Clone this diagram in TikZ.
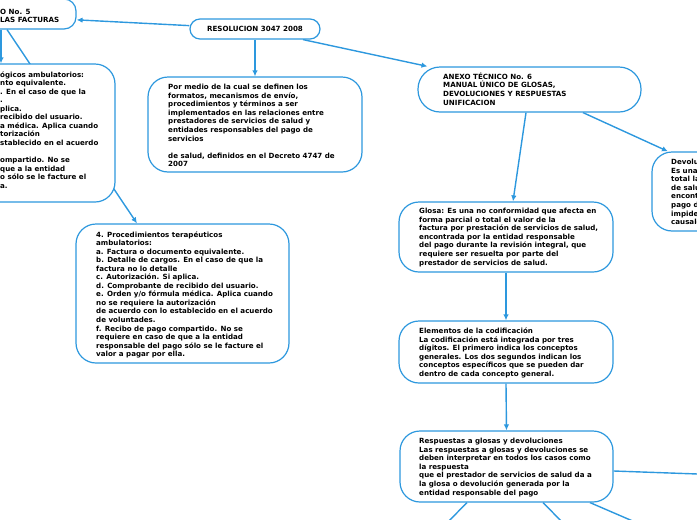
\documentclass[tikz,border=0pt]{standalone}
\usepackage{fontspec}
\setmainfont{DejaVu Sans}
\usetikzlibrary{arrows.meta,backgrounds}
\definecolor{mblue}{RGB}{45,152,222}
\newcommand{\tp}{\rule{0pt}{7pt}}
\tikzset{
  box/.style={draw=mblue, line width=1.2pt, fill=white, rectangle, rounded corners=#1, inner sep=0pt},
  box/.default=20pt,
  txt/.style={anchor=north west, align=left, inner sep=0pt, font=\bfseries\fontsize{7.1}{8.55}\selectfont, text=black},
  conn/.style={draw=mblue, line width=1.4pt, -{Latex[length=6pt,width=5.5pt]}},
  link/.style={draw=mblue, line width=1.4pt},
}
\begin{document}
\begin{tikzpicture}[x=1pt,y=-1pt]
\useasboundingbox (0,0) rectangle (697,520);
\clip (0,0) rectangle (697,520);
% boxes
\node[box=10pt, minimum width=130pt, minimum height=20pt] (R) at (255,29) {};
\node[box=12pt, minimum width=226pt, minimum height=30pt] (A5) at (-37,14) {};
\node[box=20pt, minimum width=265pt, minimum height=138pt] (L3) at (-17.5,133) {};
\node[box=20pt, minimum width=214pt, minimum height=95pt] (P) at (255,124.5) {};
\node[box=22pt, minimum width=223pt, minimum height=45pt] (A6) at (529.5,89.5) {};
\node[box=20pt, minimum width=148pt, minimum height=79pt] (Dv) at (726,191.5) {};
\node[box=20pt, minimum width=213pt, minimum height=139pt] (N4) at (182.5,293.5) {};
\node[box=20pt, minimum width=214pt, minimum height=70pt] (Gl) at (506,237) {};
\node[box=20pt, minimum width=214pt, minimum height=62pt] (El) at (506,352) {};
\node[box=20pt, minimum width=213pt, minimum height=71pt] (Rs) at (506.5,466.5) {};
% texts (north west at first baseline - 7pt)
\node[txt, anchor=north] (Rt) at (255,24.6) {\tp RESOLUCION 3047 2008};
\node[txt] (A5t) at (0,7.2) {\tp O No. 5\\LAS FACTURAS};
\node[txt] (L3t) at (0,69.8) {\tp ógicos ambulatorios:\\nto equivalente.\\. En el caso de que la\\.\\plica.\\recibido del usuario.\\a médica. Aplica cuando\\torización\\stablecido en el acuerdo\\[8.55pt]ompartido. No se\\que a la entidad\\o sólo se le facture el\\a.};
\node[txt] (Pt) at (168,82.5) {\tp Por medio de la cual se definen los\\formatos, mecanismos de envío,\\procedimientos y términos a ser\\implementados en las relaciones entre\\prestadores de servicios de salud y\\entidades responsables del pago de\\servicios\\[8.55pt]de salud, definidos en el Decreto 4747 de\\2007};
\node[txt] (A6t) at (443,72.2) {\tp ANEXO TÉCNICO No. 6\\MANUAL ÚNICO DE GLOSAS,\\DEVOLUCIONES Y RESPUESTAS\\UNIFICACION};
\node[txt] (Dvt) at (671,157.5) {\tp Devolu\\Es una\\total la\\de salu\\encont\\pago d\\impide\\causale};
\node[txt] (N4t) at (96,229.8) {\tp 4. Procedimientos terapéuticos\\ambulatorios:\\a. Factura o documento equivalente.\\b. Detalle de cargos. En el caso de que la\\factura no lo detalle\\c. Autorización. Si aplica.\\d. Comprobante de recibido del usuario.\\e. Orden y/o fórmula médica. Aplica cuando\\no se requiere la autorización\\de acuerdo con lo establecido en el acuerdo\\de voluntades.\\f. Recibo de pago compartido. No se\\requiere en caso de que a la entidad\\responsable del pago sólo se le facture el\\valor a pagar por ella.};
\node[txt] (Glt) at (419,206.5) {\tp Glosa: Es una no conformidad que afecta en\\forma parcial o total el valor de la\\factura por prestación de servicios de salud,\\encontrada por la entidad responsable\\del pago durante la revisión integral, que\\requiere ser resuelta por parte del\\prestador de servicios de salud.};
\node[txt] (Elt) at (419,326.5) {\tp Elementos de la codificación\\La codificación está integrada por tres\\dígitos. El primero indica los conceptos\\generales. Los dos segundos indican los\\conceptos específicos que se pueden dar\\dentro de cada concepto general.};
\node[txt] (Rst) at (419,436.5) {\tp Respuestas a glosas y devoluciones\\Las respuestas a glosas y devoluciones se\\deben interpretar en todos los casos como\\la respuesta\\que el prestador de servicios de salud da a\\la glosa o devolución generada por la\\entidad responsable del pago};
% free ends
\coordinate (up5) at (54,-20);
\coordinate (e1) at (720,474.8);
\coordinate (b1) at (440,530);
\coordinate (b2) at (570,530);
\coordinate (b3) at (653.5,530);
% connectors
\begin{scope}[on background layer]
\draw[conn] (R) -- (A5);
\draw[conn] (R.south) -- (P.north);
\draw[conn] ([xshift=48pt]R.south) -- ([xshift=-102pt]A6.north);
\draw[conn] ([xshift=-3.5pt]A6.south) -- ([xshift=7pt]Gl.north);
\draw[conn] ([xshift=53.5pt]A6.south) -- ([xshift=-58pt]Dv.north);
\draw[conn] (Gl.south) -- (El.north);
\draw[conn] (El.south) -- (Rs.north);
\draw[conn] ([xshift=44pt]A5.south) -- ([xshift=-45.5pt]N4.north);
\draw[conn] ([xshift=38pt]A5.south) -- ([xshift=18.5pt]L3.north);
\draw[link] ([xshift=87pt]A5.north) -- (up5);
\draw[link] ([yshift=-4.5pt]Rs.east) -- (e1);
\draw[link] ([xshift=-39.5pt]Rs.south) -- (b1);
\draw[link] ([xshift=36.5pt]Rs.south) -- (b2);
\draw[link] ([xshift=83.5pt]Rs.south) -- (b3);
\end{scope}
\end{tikzpicture}
\end{document}
